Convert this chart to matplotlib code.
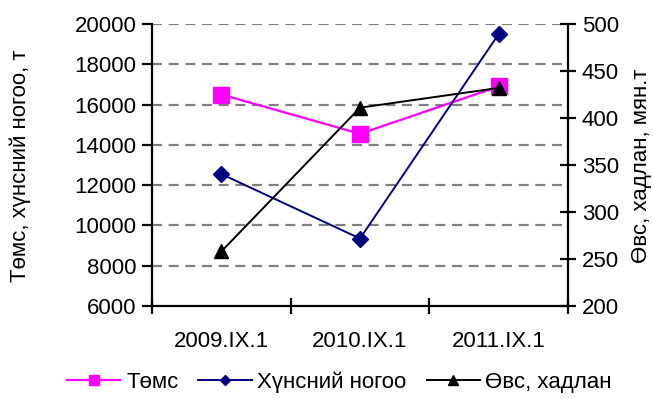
import matplotlib
matplotlib.use("Agg")
import matplotlib.pyplot as plt

plt.rcParams['font.family'] = ['Liberation Sans', 'DejaVu Sans']

categories = ["2009.IX.1", "2010.IX.1", "2011.IX.1"]
potato = [16500, 14550, 16900]          # Төмс, т
vegetables = [12550, 9350, 19500]       # Хүнсний ногоо, т
hay = [258, 411, 432]                   # Өвс, хадлан, мян.т

left_ticks = list(range(6000, 20001, 2000))
right_ticks = list(range(200, 501, 50))

FS = 16

fig = plt.figure(figsize=(6.53, 3.99), dpi=100)
ax = fig.add_axes([0.2328, 0.2331, 0.6370, 0.7067])
ax2 = ax.twinx()

x = [i + 0.5 for i in range(len(categories))]

ax.set_xlim(0, len(categories))
ax.set_ylim(left_ticks[0], left_ticks[-1])
ax2.set_ylim(right_ticks[0], right_ticks[-1])

# dashed horizontal grid on the left scale
for v in left_ticks[1:]:
    ax.axhline(v, color='#808080', lw=1.6, ls=(0, (4.5, 3)), zorder=0)

l1, = ax.plot(x, potato, color='#FF00FF', lw=1.6, marker='s', ms=11,
              mfc='#FF00FF', mec='#FF00FF', zorder=3)
l2, = ax.plot(x, vegetables, color='#000080', lw=1.4, marker='D', ms=8,
              mfc='#000080', mec='#000080', zorder=3)
l3, = ax2.plot(x, hay, color='black', lw=1.4, marker='^', ms=10,
               mfc='black', mec='black', zorder=3)

# category ticks sit on the boundaries, labels in the middle
ax.set_xticks(range(len(categories) + 1))
ax.set_xticklabels([])
ax.set_xticks(x, minor=True)
ax.set_xticklabels(categories, minor=True, fontsize=FS)
ax.tick_params(axis='x', which='major', direction='inout', length=12, width=1.6)
ax.tick_params(axis='x', which='minor', length=0, pad=18)

ax.set_yticks(left_ticks)
ax.set_yticklabels([str(v) for v in left_ticks], fontsize=FS)
ax.tick_params(axis='y', direction='out', length=7, width=1.6, pad=4)

ax2.set_yticks(right_ticks)
ax2.set_yticklabels([str(v) for v in right_ticks], fontsize=FS)
ax2.tick_params(axis='y', direction='inout', length=12, width=1.6, pad=4)

for a in (ax, ax2):
    a.spines['top'].set_visible(False)
    for s in ('left', 'right', 'bottom'):
        a.spines[s].set_linewidth(1.6)
ax.spines['right'].set_visible(False)
ax2.spines['left'].set_visible(False)
ax2.spines['bottom'].set_visible(False)

fig.text(0.031, 0.584, "Төмс, хүнсний ногоо, т", rotation=90,
         ha='center', va='center', fontsize=FS)
fig.text(0.982, 0.584, "Өвс, хадлан, мян.т", rotation=90,
         ha='center', va='center', fontsize=FS)

fig.legend([l1, l2, l3], ["Төмс", "Хүнсний ногоо", "Өвс, хадлан"],
           loc='lower center', bbox_to_anchor=(0.52, -0.035), ncol=3,
           frameon=False, fontsize=FS, markerscale=0.65,
           handlelength=2.4, handletextpad=0.25, columnspacing=0.9)

fig.savefig("out.png", dpi=100)
